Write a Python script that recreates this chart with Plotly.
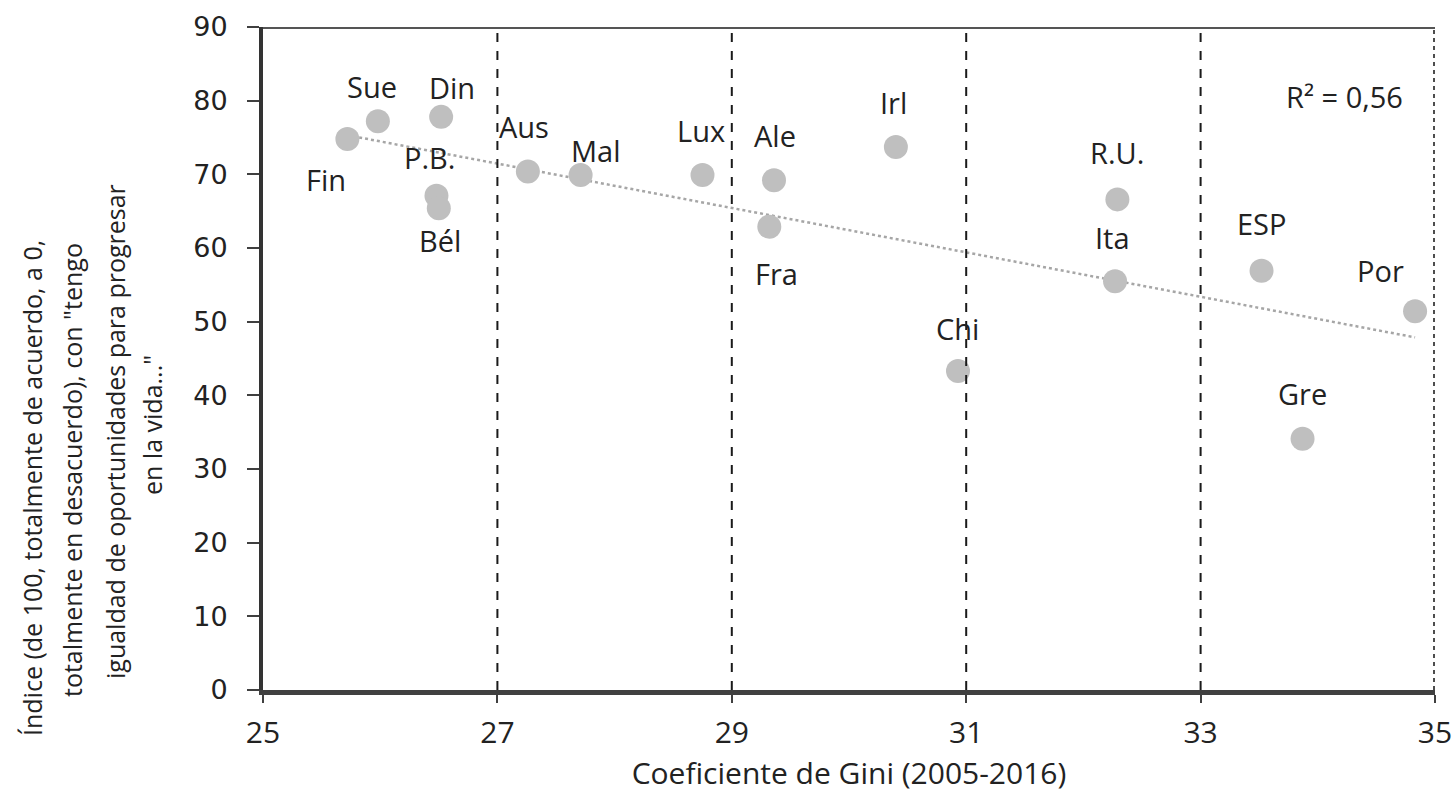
import numpy as np
import plotly.graph_objects as go

countries = ["Fin", "Sue", "Din", "P.B.", "Bél", "Aus", "Mal", "Lux", "Ale", "Fra",
             "Irl", "Chi", "R.U.", "Ita", "ESP", "Gre", "Por"]
gini = [25.72, 25.98, 26.52, 26.48, 26.50, 27.26, 27.71, 28.75, 29.36, 29.32,
        30.40, 30.93, 32.29, 32.27, 33.52, 33.87, 34.83]
index_vals = [74.8, 77.2, 77.8, 67.1, 65.4, 70.4, 69.9, 69.9, 69.2, 62.9,
              73.7, 43.3, 66.6, 55.5, 56.9, 34.1, 51.4]
x_ticks = [25, 27, 29, 31, 33, 35]
y_ticks = [0, 10, 20, 30, 40, 50, 60, 70, 80, 90]
vlines = [27, 29, 31, 33]
r2_text = "R² = 0,56"
y_title_lines = ["Índice (de 100, totalmente de acuerdo, a 0,",
                 "totalmente en desacuerdo), con \"tengo",
                 "igualdad de oportunidades para progresar",
                 "en la vida...\""]
x_title = "Coeficiente de Gini (2005-2016)"

# label pixel offsets (dx, dy) relative to each point (style only)
label_offsets = {
    "Fin": (-21, -41), "Sue": (-6, 35), "Din": (11, 29), "P.B.": (-7, 38),
    "Bél": (1, -32), "Aus": (-4, 45), "Mal": (15, 25), "Lux": (-2, 45),
    "Ale": (1, 45), "Fra": (7, -47), "Irl": (-2, 45), "Chi": (-1, 43),
    "R.U.": (0, 47), "Ita": (-3, 44), "ESP": (0, 47), "Gre": (0, 45),
    "Por": (-35, 41),
}
# pixel centres (x, y) of the rotated y-title lines (layout only)
y_title_pos = [(32, 488), (72, 470), (115, 432), (152, 425)]

xs = np.array(gini)
ys = np.array(index_vals)
slope, intercept = np.polyfit(xs, ys, 1)
xl = np.array([xs.min(), xs.max()])
yl = slope * xl + intercept

FONT = "Open Sans"
txt_color = "#222222"
W, H = 1454, 797
ML, MR, MT, MB = 263, 19, 27, 107
PW, PH = W - ML - MR, H - MT - MB

fig = go.Figure()
fig.add_trace(go.Scatter(x=xl, y=yl, mode="lines",
                         line=dict(color="#A6A6A6", width=2.5, dash="dot"),
                         hoverinfo="skip", showlegend=False))
fig.add_trace(go.Scatter(x=gini, y=index_vals, mode="markers", text=countries,
                         marker=dict(size=24, color="#BFBFBF"),
                         showlegend=False))

for c, x, y in zip(countries, gini, index_vals):
    dx, dy = label_offsets[c]
    fig.add_annotation(x=x, y=y, text=c, showarrow=False, xshift=dx, yshift=dy,
                       font=dict(family=FONT, size=29, color=txt_color))

for v in vlines:
    fig.add_shape(type="line", x0=v, x1=v, y0=0, y1=90, xref="x", yref="y",
                  line=dict(color="#1a1a1a", width=2, dash="dash"), layer="above")
# right border (dashed) and top border
fig.add_shape(type="line", x0=35, x1=35, y0=0, y1=90, xref="x", yref="y",
              line=dict(color="#4d4d4d", width=4, dash="dot"), layer="above")
fig.add_shape(type="line", x0=25, x1=35, y0=90, y1=90, xref="x", yref="y",
              line=dict(color="#555555", width=4), layer="above")

fig.add_annotation(x=1, y=80.6, xref="x domain", yref="y", text=r2_text, showarrow=False,
                   xanchor="right", xshift=-30,
                   font=dict(family=FONT, size=29, color=txt_color))

for line, (px, py) in zip(y_title_lines, y_title_pos):
    fig.add_annotation(x=(px - ML) / PW, y=(H - MB - py) / PH, xref="paper", yref="paper",
                       textangle=-90, xanchor="center", yanchor="middle", showarrow=False,
                       text=line, font=dict(family=FONT, size=25, color=txt_color))

fig.update_layout(
    width=W, height=H,
    margin=dict(l=ML, r=MR, t=MT, b=MB),
    plot_bgcolor="white", paper_bgcolor="white",
    xaxis=dict(range=[25, 35], tickvals=x_ticks, ticktext=[str(t) for t in x_ticks],
               automargin=False,
               showgrid=False, zeroline=False, showline=True, linecolor="#404040",
               linewidth=5, ticks="outside", ticklen=8, tickcolor="#404040",
               tickwidth=2, ticklabelstandoff=4,
               tickfont=dict(family=FONT, size=30, color=txt_color),
               title=dict(text=x_title, standoff=10,
                          font=dict(family=FONT, size=30, color=txt_color))),
    yaxis=dict(range=[0, 90], tickvals=y_ticks, showgrid=False, zeroline=False,
               automargin=False,
               showline=True, linecolor="#333333", linewidth=4, ticks="outside",
               ticklen=12, tickcolor="#404040", tickwidth=2, ticklabelstandoff=14,
               tickfont=dict(family="DejaVu Sans", size=27, color=txt_color)),
)

fig.write_html("out.html", config={"displayModeBar": False},
               post_script="document.body.style.margin='0';document.body.style.overflow='hidden';")
